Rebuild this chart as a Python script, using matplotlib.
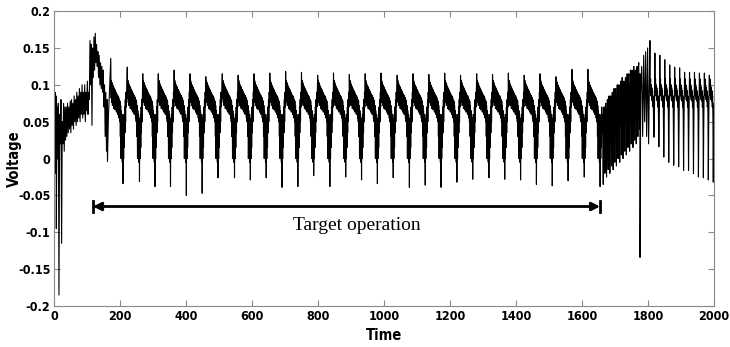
import numpy as np
import matplotlib
matplotlib.use("Agg")
import matplotlib.pyplot as plt

# ---- start-up section (0 .. ~170)
start_t = [0, 2, 3, 5, 6, 7, 9, 11, 13, 15, 17, 19, 21, 23, 25, 27, 29, 31, 33, 35,
           37, 39, 41, 43, 45, 47, 49, 51, 53, 55, 57, 59, 61, 63, 65, 67, 69, 71, 73, 75,
           77, 79, 81, 83, 85, 87, 89, 91, 93, 95, 97, 99, 101, 103, 105, 107, 109, 111, 113, 115,
           117, 119, 121, 123, 125, 127, 129, 131, 133, 135, 137, 139, 141, 143, 145, 147, 149, 151, 153, 155,
           157, 159, 161, 162, 165, 168]
start_v = [0.105, 0.04, 0.09, -0.02, 0.085, -0.095, 0.07, 0.0, 0.075, -0.185, 0.06, 0.02, 0.08, -0.115, 0.05, 0.02, 0.075, 0.01, 0.07, 0.025,
           0.07, 0.03, 0.075, 0.035, 0.07, 0.04, 0.078, 0.035, 0.08, 0.045, 0.075, 0.04, 0.085, 0.05, 0.08, 0.045, 0.09, 0.05, 0.085, 0.055,
           0.095, 0.05, 0.09, 0.06, 0.10, 0.055, 0.09, 0.06, 0.10, 0.05, 0.09, 0.065, 0.105, 0.06, 0.09, 0.08, 0.16, 0.10, 0.155, 0.045,
           0.15, 0.11, 0.165, 0.12, 0.17, 0.13, 0.155, 0.125, 0.145, 0.11, 0.14, 0.10, 0.13, 0.095, 0.125, 0.09, 0.12, 0.07, 0.10, 0.03,
           0.09, 0.01, 0.08, -0.004, 0.06, 0.09]

# ---- target operation: one entry per cycle
peak_t = [172, 222, 269, 316, 364, 412, 460, 510, 558, 606, 654, 702, 750, 799, 847, 895,
          943, 991, 1040, 1088, 1136, 1184, 1232, 1281, 1329, 1377, 1425, 1473, 1521, 1570, 1618]
peak_v = [0.136, 0.124, 0.115, 0.115, 0.12, 0.115, 0.111, 0.115, 0.113, 0.115, 0.116, 0.118, 0.117, 0.113, 0.116, 0.114,
          0.115, 0.116, 0.113, 0.115, 0.114, 0.116, 0.113, 0.115, 0.114, 0.116, 0.113, 0.115, 0.111, 0.121, 0.121]
dip_v = [-0.034, -0.031, -0.038, -0.038, -0.05, -0.047, -0.026, -0.026, -0.029, -0.026, -0.039, -0.038, -0.023, -0.038, -0.025, -0.029,
         -0.034, -0.026, -0.039, -0.036, -0.039, -0.032, -0.028, -0.026, -0.028, -0.029, -0.035, -0.037, -0.030, -0.025, -0.038]

# shape of a typical cycle after its peak (None = dip of that cycle)
cycle_dt = [1, 2, 3, 4, 5, 6, 7, 8, 9, 10, 11, 12, 13, 14, 15, 16, 17, 18, 19, 20, 21, 22, 23, 24,
            25, 26, 27, 28, 29, 30, 31, 32, 33, 34, 35, 36, 37, 38, 39, 40, 41, 42, 43, 44, 45, 46, 47]
cycle_v = [0.082, 0.106, 0.076, 0.103, 0.072, 0.100, 0.078, 0.098, 0.068, 0.096, 0.072, 0.094, 0.066, 0.092, 0.070, 0.090,
           0.063, 0.088, 0.066, 0.086, 0.060, 0.085, 0.062, 0.083, 0.055, 0.080, 0.050, 0.078, 0.030, 0.072, 0.000, 0.065,
           0.020, 0.060, -0.005, 0.055, None, 0.045, 0.000, 0.060, 0.015, 0.070, 0.035, 0.080, 0.050, 0.090, 0.070]

# ---- transition after target operation
trans_t = [1662, 1667, 1672, 1677, 1682, 1687, 1692, 1697, 1702, 1707, 1712, 1717,
           1722, 1727, 1732, 1737, 1742, 1747, 1752, 1757, 1762, 1767, 1772]
trans_hi = [0.06, 0.07, 0.075, 0.08, 0.085, 0.085, 0.09, 0.095, 0.095, 0.10, 0.10, 0.105,
            0.11, 0.105, 0.11, 0.115, 0.115, 0.12, 0.12, 0.125, 0.12, 0.125, 0.13]
trans_mid = [0.03, 0.04, 0.035, 0.045, 0.04, 0.05, 0.045, 0.055, 0.05, 0.06, 0.055, 0.065,
             0.06, 0.07, 0.065, 0.075, 0.07, 0.08, 0.075, 0.085, 0.08, 0.09, 0.085]
trans_lo = [-0.035, -0.02, -0.025, -0.015, -0.02, -0.01, -0.015, -0.005, -0.01, 0.0, -0.005, 0.005,
            0.0, 0.01, 0.005, 0.015, 0.01, 0.02, 0.015, 0.025, 0.02, 0.03, 0.04]
spike_t = [1776, 1778, 1781, 1784, 1787, 1790, 1793, 1796, 1799, 1802]
spike_v = [-0.134, 0.09, 0.125, 0.03, 0.14, 0.05, 0.145, 0.03, 0.15, 0.02]

# ---- end section: fast cycles
end_peak_t = [1806, 1821, 1836, 1851, 1866, 1881, 1896, 1911, 1926, 1941, 1956, 1971, 1986]
end_peak_v = [0.16, 0.143, 0.14, 0.134, 0.127, 0.124, 0.123, 0.117, 0.117, 0.117, 0.116, 0.116, 0.113]
end_trough_v = [0.029, 0.016, 0.002, -0.005, -0.009, -0.011, -0.016, -0.016, -0.020, -0.025, -0.026, -0.029, -0.032]
end_dt = [1, 2, 3, 4, 5, 6, 7, 8, 9, 10, 11, 12, 13, 14]
end_v = [0.09, 0.108, 0.085, 0.1, 0.08, 0.096, 0.078, 0.092, 0.07, 0.085, 0.05, None, 0.04, 0.075]

# build the trace
t = list(start_t)
v = list(start_v)
nxt = peak_t[1:] + [1662]
for k in range(len(peak_t)):
    t.append(peak_t[k]); v.append(peak_v[k])
    for dt, val in zip(cycle_dt, cycle_v):
        if peak_t[k] + dt >= nxt[k] - 0.5:
            break
        t.append(peak_t[k] + dt)
        v.append(dip_v[k] if val is None else val)
for k in range(len(trans_t)):
    t += [trans_t[k], trans_t[k] + 1.25, trans_t[k] + 2.5, trans_t[k] + 3.75]
    v += [trans_hi[k], trans_mid[k], trans_lo[k], trans_mid[k] + 0.03]
t += spike_t
v += spike_v
for k in range(len(end_peak_t)):
    t.append(end_peak_t[k]); v.append(end_peak_v[k])
    for dt, val in zip(end_dt, end_v):
        if end_peak_t[k] + dt > 2000:
            break
        t.append(end_peak_t[k] + dt)
        v.append(end_trough_v[k] if val is None else val)

fig = plt.figure(figsize=(7.3, 3.47), dpi=100)
ax = fig.add_axes([0.074, 0.118, 0.904, 0.850])
ax.plot(t, v, color="black", linewidth=0.8)

ax.set_xlim(0, 2000)
ax.set_ylim(-0.2, 0.2)
ax.set_xticks(np.arange(0, 2001, 200))
ax.set_yticks([-0.2, -0.15, -0.1, -0.05, 0, 0.05, 0.1, 0.15, 0.2])
ax.set_yticklabels(["-0.2", "-0.15", "-0.1", "-0.05", "0", "0.05", "0.1", "0.15", "0.2"])
for s in ax.spines.values():
    s.set_color("#8a8a8a")
ax.tick_params(direction="in", top=True, right=True, color="#8a8a8a", length=4, pad=2.5)
for lab in ax.get_xticklabels() + ax.get_yticklabels():
    lab.set_fontweight("bold")
    lab.set_fontsize(9)
    lab.set_family("DejaVu Sans")
    lab.set_stretch("condensed")
ax.set_xlabel("Time", fontsize=10.5, fontweight="bold", family="DejaVu Sans",
              stretch="condensed", labelpad=4)
ax.set_ylabel("Voltage", fontsize=10.5, fontweight="bold", family="DejaVu Sans",
              stretch="condensed")
ax.yaxis.set_label_coords(-0.049, 0.5)

# target operation marker
arrow_x0, arrow_x1, arrow_y = 118, 1655, -0.065
ax.annotate("", xy=(arrow_x0, arrow_y), xytext=(arrow_x1, arrow_y),
            arrowprops=dict(arrowstyle="<|-|>", color="black", lw=2, mutation_scale=12,
                            shrinkA=0, shrinkB=0))
for xe in (arrow_x0, arrow_x1):
    ax.plot([xe, xe], [arrow_y - 0.008, arrow_y + 0.008], color="black", lw=2)
ax.text(918, -0.091, "Target operation", ha="center", va="center",
        fontsize=14, family="Liberation Serif")

fig.savefig("out.png", dpi=100)
